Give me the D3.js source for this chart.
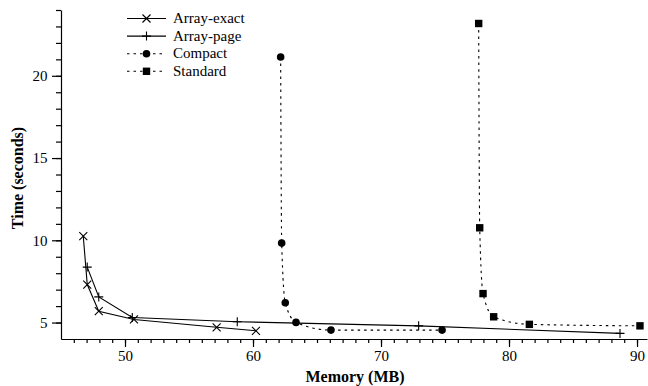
<!DOCTYPE html>
<html>
<head>
<meta charset="utf-8">
<script src="https://cdn.jsdelivr.net/npm/d3@7"></script>
<style>
  body { margin: 0; background: #fff; }
  svg text { font-family: "Liberation Serif", "Times New Roman", serif; fill: #000; }
</style>
</head>
<body>
<div id="chart"></div>
<script>
// Memory vs time, four allocators
const seriesNames = ['Array-exact', 'Array-page', 'Compact', 'Standard']
const exactMem = [46.74, 47.05, 47.95, 50.70, 57.16, 60.23]
const exactTime = [10.25, 7.31, 5.69, 5.19, 4.71, 4.50]
const pageMem = [47.05, 47.95, 50.57, 58.77, 72.94, 88.67]
const pageTime = [8.37, 6.56, 5.31, 5.05, 4.80, 4.34]
const compactMem = [62.16, 62.24, 62.52, 63.36, 66.09, 74.77]
const compactTime = [21.14, 9.83, 6.20, 5.01, 4.54, 4.54]
const standardMem = [77.63, 77.71, 77.97, 78.80, 81.59, 90.23]
const standardTime = [23.18, 10.76, 6.76, 5.35, 4.89, 4.80]
const xTicks = [50, 60, 70, 80, 90]
const yTicks = [5, 10, 15, 20]

let chart = {
  width: 648,
  height: 386,
  left: 61,
  right: 647,
  top: 10,
  bottom: 339,
}

let series = [
  {name: seriesNames[0], mem: exactMem, time: exactTime, marker: 'x', dash: null, curve: d3.curveLinear},
  {name: seriesNames[1], mem: pageMem, time: pageTime, marker: 'plus', dash: null, curve: d3.curveLinear},
  {name: seriesNames[2], mem: compactMem, time: compactTime, marker: 'circle', dash: '2.5,4', curve: d3.curveMonotoneX},
  {name: seriesNames[3], mem: standardMem, time: standardTime, marker: 'square', dash: '2.5,4', curve: d3.curveMonotoneX},
]

let x = d3.scaleLinear().domain([45, 90.78]).range([chart.left, chart.right])
let y = d3.scaleLinear().domain([4, 24]).range([chart.bottom, chart.top])

let svg = d3.select('#chart').append('svg')
  .attr('width', chart.width)
  .attr('height', chart.height)

// axes: minor ticks first, then majors with labels
svg.append('g')
  .attr('transform', `translate(0,${chart.bottom})`)
  .call(d3.axisBottom(x).tickValues(d3.range(46, 91)).tickSize(4).tickFormat('').tickSizeOuter(0))
  .call(g => g.select('.domain').remove())
svg.append('g')
  .attr('transform', `translate(0,${chart.bottom})`)
  .call(d3.axisBottom(x).tickValues(xTicks).tickSize(8).tickSizeOuter(0).tickPadding(3))
  .call(g => g.selectAll('text').attr('font-size', 15))

svg.append('g')
  .attr('transform', `translate(${chart.left},0)`)
  .call(d3.axisLeft(y).tickValues(d3.range(5, 25)).tickSize(5).tickFormat('').tickSizeOuter(0))
  .call(g => g.select('.domain').remove())
svg.append('g')
  .attr('transform', `translate(${chart.left},0)`)
  .call(d3.axisLeft(y).tickValues(yTicks).tickSize(9).tickSizeOuter(0).tickPadding(4.5))
  .call(g => g.selectAll('text').attr('font-size', 15))

svg.selectAll('.tick line, .domain').attr('stroke', '#000').attr('stroke-width', 1.2)

// axis titles
svg.append('text')
  .attr('x', 355)
  .attr('y', 382)
  .attr('text-anchor', 'middle')
  .attr('font-size', 16)
  .attr('font-weight', 'bold')
  .text('Memory (MB)')

svg.append('text')
  .attr('transform', `translate(23,178) rotate(-90)`)
  .attr('text-anchor', 'middle')
  .attr('font-size', 16)
  .attr('font-weight', 'bold')
  .text('Time (seconds)')

function drawMarker(g, type, cx, cy) {
  if (type === 'x') {
    g.append('path').attr('d', `M${cx - 4},${cy - 4}L${cx + 4},${cy + 4}M${cx - 4},${cy + 4}L${cx + 4},${cy - 4}`)
      .attr('stroke', '#000').attr('stroke-width', 1.1).attr('fill', 'none')
  } else if (type === 'plus') {
    g.append('path').attr('d', `M${cx - 4.5},${cy}L${cx + 4.5},${cy}M${cx},${cy - 4.5}L${cx},${cy + 4.5}`)
      .attr('stroke', '#000').attr('stroke-width', 1.1).attr('fill', 'none')
  } else if (type === 'circle') {
    g.append('circle').attr('cx', cx).attr('cy', cy).attr('r', 3.8).attr('fill', '#000')
  } else if (type === 'square') {
    g.append('rect').attr('x', cx - 3.7).attr('y', cy - 3.7).attr('width', 7.4).attr('height', 7.4).attr('fill', '#000')
  }
}

// data lines and markers
series.forEach(s => {
  let pts = s.mem.map((m, i) => [m, s.time[i]])
  let line = d3.line().x(d => x(d[0])).y(d => y(d[1])).curve(s.curve)
  svg.append('path')
    .attr('d', line(pts))
    .attr('fill', 'none')
    .attr('stroke', '#000')
    .attr('stroke-width', 1.1)
    .attr('stroke-dasharray', s.dash)
  let g = svg.append('g')
  pts.forEach(p => drawMarker(g, s.marker, x(p[0]), y(p[1])))
})

// legend
let legend = svg.append('g')
series.forEach((s, i) => {
  let ly = 18.5 + i * 17.6
  legend.append('line')
    .attr('x1', 127).attr('x2', 166).attr('y1', ly).attr('y2', ly)
    .attr('stroke', '#000').attr('stroke-width', 1.1)
    .attr('stroke-dasharray', s.dash)
  drawMarker(legend, s.marker, 146.5, ly)
  legend.append('text')
    .attr('x', 173).attr('y', ly + 4.7)
    .attr('font-size', 15)
    .text(s.name)
})
</script>
</body>
</html>
